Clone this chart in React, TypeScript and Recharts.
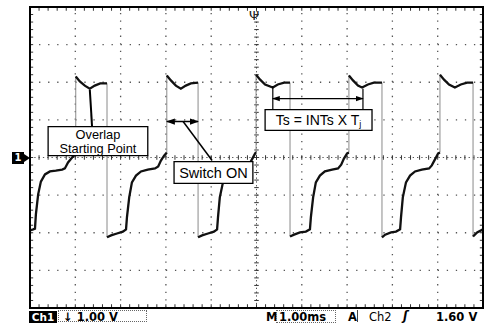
import React from 'react';
import { LineChart, Line, XAxis, YAxis, ReferenceLine, ReferenceArea } from 'recharts';

// Ch1 trace: time in ms (1 ms/div), voltage in V (1 V/div). null marks a fast edge.
const TIME_MS = [
  0, 0.07, 0.11, 0.13, 0.18, 0.24, 0.33, 0.44, 0.57, 0.71, 0.77, 0.84, 0.93, 0.99, 1.01,
  1.01,
  1.01, 1.1, 1.21, 1.32, 1.43, 1.55, 1.63, 1.7,
  1.7,
  1.7, 1.79, 1.92, 2.05, 2.12, 2.14, 2.19, 2.25, 2.34, 2.45, 2.6, 2.76, 2.83, 2.89, 2.96, 3.02,
  3.02,
  3.02, 3.11, 3.22, 3.33, 3.44, 3.55, 3.71,
  3.71,
  3.71, 3.8, 3.93, 4.06, 4.13, 4.15, 4.19, 4.26, 4.35, 4.46, 4.61, 4.77, 4.83, 4.9, 4.97, 4.99,
  4.99,
  4.99, 5.08, 5.19, 5.36, 5.47, 5.61, 5.74,
  5.74,
  5.74, 5.83, 5.96, 6.09, 6.18, 6.2, 6.25, 6.31, 6.4, 6.51, 6.67, 6.8, 6.87, 6.93, 7.0, 7.04,
  7.04,
  7.04, 7.13, 7.24, 7.33, 7.46, 7.59, 7.77,
  7.77,
  7.77, 7.84, 7.97, 8.08, 8.17, 8.19, 8.23, 8.3, 8.39, 8.5, 8.65, 8.81, 8.87, 8.94, 9.01, 9.05,
  9.05,
  9.05, 9.14, 9.25, 9.38, 9.51, 9.65, 9.78,
  9.78,
  9.78, 9.87, 10.0,
];
const CH1_V = [
  -1.94, -1.91, -1.89, -1.51, -0.98, -0.64, -0.45, -0.37, -0.35, -0.32, -0.29, -0.13, 0, 0.08, 0.12,
  null,
  2.15, 2.02, 1.91, 1.83, 1.91, 1.97, 1.97, 1.97,
  null,
  -2.12, -2.07, -2.02, -1.97, -1.91, -1.59, -1.06, -0.66, -0.48, -0.37, -0.32, -0.29, -0.24, -0.08, 0.05, 0.13,
  null,
  2.18, 2.05, 1.91, 1.83, 1.91, 1.97, 1.99,
  null,
  -2.12, -2.07, -2.02, -1.97, -1.91, -1.59, -1.06, -0.66, -0.48, -0.37, -0.32, -0.29, -0.21, -0.05, 0.11, 0.14,
  null,
  2.2, 2.07, 1.94, 1.86, 1.94, 1.99, 1.99,
  null,
  -2.1, -2.05, -1.99, -1.97, -1.91, -1.59, -1.06, -0.66, -0.48, -0.37, -0.32, -0.29, -0.19, -0.03, 0.11, 0.13,
  null,
  2.18, 2.05, 1.91, 1.86, 1.94, 1.99, 1.99,
  null,
  -2.12, -2.05, -1.99, -1.97, -1.91, -1.59, -1.06, -0.66, -0.48, -0.37, -0.32, -0.29, -0.21, -0.05, 0.11, 0.13,
  null,
  2.2, 2.07, 1.94, 1.86, 1.94, 1.99, 1.99,
  null,
  -2.1, -1.99, -1.91,
];

const X_GRID = [1, 2, 3, 4, 6, 7, 8, 9];
const Y_GRID = [-3, -2, -1, 1, 2, 3];
const X_MINOR = Array.from({ length: 49 }, (_, i) => +(0.2 * (i + 1)).toFixed(2));
const Y_MINOR = Array.from({ length: 39 }, (_, i) => +(-3.8 + 0.2 * i).toFixed(2));

const ANNOT_OVERLAP = ['Overlap', 'Starting Point'];
const ANNOT_SWITCH = ['Switch ON'];
const STATUS_LEFT = '\u2193 1.00 V';
const STATUS_TIME = '1.00ms';
const STATUS_TRIG = ['A', 'Ch2', '1.60 V'];

const data = TIME_MS.map((t, i) => ({ t, v: CH1_V[i] }));

const FONT = '"Liberation Sans", Arial, sans-serif';
const TOP = 1500;

const boxLabel = (lines: React.ReactNode[], fontSize: number, lineH: number) => (props: any) => {
  const vb = props.viewBox || {};
  const x = vb.x, y = vb.y, w = vb.width, h = vb.height;
  const cx = x + w / 2;
  const n = lines.length;
  const y0 = y + h / 2 - ((n - 1) * lineH) / 2;
  return (
    <text x={cx} y={y0} textAnchor="middle" dominantBaseline="central" fontFamily={FONT} fontSize={fontSize} fill="#000">
      {lines.map((l, i) => (
        <tspan key={i} x={cx} y={y0 + i * lineH}>{l}</tspan>
      ))}
    </text>
  );
};

const tsLabel = (props: any) => {
  const vb = props.viewBox || {};
  const cx = vb.x + vb.width / 2;
  const cy = vb.y + vb.height / 2;
  return (
    <text x={cx} y={cy} textAnchor="middle" dominantBaseline="central" fontFamily={FONT} fontSize={14} fill="#000">
      <tspan>Ts = INTs X T</tspan>
      <tspan dy={4} fontSize={9}>j</tspan>
    </text>
  );
};

const gridColor = '#555';

export default function App() {
  return (
    <div style={{ position: 'absolute', left: 0, top: 0, width: 486, height: 326, background: '#fff' }}>
      <LineChart width={486} height={326} data={data} margin={{ top: 7, right: 3, bottom: 18, left: 30 }}>
        <defs>
          <marker id="ah" viewBox="0 0 10 10" refX="9" refY="5" markerWidth="6" markerHeight="6" orient="auto-start-reverse">
            <path d="M0,1.5 L10,5 L0,8.5 z" fill="#000" />
          </marker>
        </defs>
        <XAxis type="number" dataKey="t" domain={[0, 10]} hide allowDataOverflow />
        <YAxis type="number" domain={[-4, 4]} hide allowDataOverflow />

        {X_GRID.map((x) => (
          <ReferenceLine key={'gx' + x} x={x} stroke={gridColor} strokeWidth={1.3} strokeDasharray="1.3 6.23" />
        ))}
        {Y_GRID.map((y) => (
          <ReferenceLine key={'gy' + y} y={y} stroke={gridColor} strokeWidth={1.3} strokeDasharray="1.3 7.76" />
        ))}
        <ReferenceLine x={5} stroke={gridColor} strokeWidth={1} strokeDasharray="1.3 2.5" />
        <ReferenceLine y={0} stroke={gridColor} strokeWidth={1} strokeDasharray="1.3 3" />
        {X_MINOR.map((x) => (
          <ReferenceLine key={'cx' + x} segment={[{ x, y: -0.06 }, { x, y: 0.06 }]} stroke="#333" strokeWidth={1} />
        ))}
        {Y_MINOR.map((y) => (
          <ReferenceLine key={'cy' + y} segment={[{ x: 4.95, y }, { x: 5.05, y }]} stroke="#333" strokeWidth={1} />
        ))}
        {X_MINOR.map((x) => (
          <ReferenceLine key={'bx' + x} segment={[{ x, y: -4 }, { x, y: -3.9 }]} stroke="#333" strokeWidth={1} />
        ))}
        {X_MINOR.map((x) => (
          <ReferenceLine key={'tx' + x} segment={[{ x, y: 4 }, { x, y: 3.9 }]} stroke="#333" strokeWidth={1} />
        ))}
        {Y_MINOR.map((y) => (
          <ReferenceLine key={'ly' + y} segment={[{ x: 0, y }, { x: 0.07, y }]} stroke="#333" strokeWidth={1} />
        ))}
        {Y_MINOR.map((y) => (
          <ReferenceLine key={'ry' + y} segment={[{ x: 10, y }, { x: 9.93, y }]} stroke="#333" strokeWidth={1} />
        ))}

        <Line type="linear" dataKey="v" connectNulls stroke="#8a8a8a" strokeWidth={1} dot={false} isAnimationActive={false} />
        <Line type="linear" dataKey="v" connectNulls={false} stroke="#111" strokeWidth={2.3} dot={false} isAnimationActive={false} />

        {/* Overlap annotation */}
        <ReferenceLine zIndex={TOP} segment={[{ x: 1.32, y: 1.8 }, { x: 1.37, y: 0.82 }]} stroke="#000" strokeWidth={2} />
        <ReferenceArea zIndex={TOP} x1={0.4} x2={2.6} y1={0.05} y2={0.82} fill="#fff" fillOpacity={1} stroke="#000" strokeWidth={1.3}
          label={boxLabel(ANNOT_OVERLAP, 12.8, 14.5)} />

        {/* Switch ON annotation */}
        <ReferenceLine zIndex={TOP} segment={[{ x: 3.02, y: 0.955 }, { x: 3.71, y: 0.955 }]} stroke="#000" strokeWidth={1.5}
          markerStart="url(#ah)" markerEnd="url(#ah)" />
        <ReferenceLine zIndex={TOP} segment={[{ x: 3.38, y: 0.955 }, { x: 4.02, y: -0.08 }]} stroke="#000" strokeWidth={1.5} />
        <ReferenceArea zIndex={TOP} x1={3.18} x2={4.92} y1={-0.69} y2={-0.11} fill="#fff" fillOpacity={1} stroke="#000" strokeWidth={1.3}
          label={boxLabel(ANNOT_SWITCH, 14.5, 14)} />

        {/* Ts annotation */}
        <ReferenceLine zIndex={TOP} segment={[{ x: 5.36, y: 1.9 }, { x: 5.36, y: 1.27 }]} stroke="#000" strokeWidth={1.2} />
        <ReferenceLine zIndex={TOP} segment={[{ x: 7.35, y: 1.83 }, { x: 7.35, y: 1.27 }]} stroke="#000" strokeWidth={1.2} />
        <ReferenceLine zIndex={TOP} segment={[{ x: 5.36, y: 1.565 }, { x: 7.35, y: 1.565 }]} stroke="#000" strokeWidth={1.3}
          markerStart="url(#ah)" markerEnd="url(#ah)" />
        <ReferenceArea zIndex={TOP} x1={5.19} x2={7.55} y1={0.72} y2={1.27} fill="#fff" fillOpacity={1} stroke="#000" strokeWidth={1.3}
          label={tsLabel} />

        {/* Border */}
        <ReferenceArea zIndex={TOP} x1={0} x2={10} y1={-4} y2={4} fill="none" fillOpacity={0} stroke="#000" strokeWidth={2} ifOverflow="visible" />
      </LineChart>

      {/* ground marker */}
      <div style={{ position: 'absolute', left: 12, top: 152, width: 12, height: 12, background: '#000', color: '#fff',
        fontFamily: '"DejaVu Sans", sans-serif', fontWeight: 700, fontSize: 10, lineHeight: '12px', textAlign: 'center' }}>1</div>
      <div style={{ position: 'absolute', left: 24, top: 154, width: 0, height: 0, borderTop: '4px solid transparent',
        borderBottom: '4px solid transparent', borderLeft: '6px solid #000' }} />
      {/* trigger position marker */}
      <div style={{ position: 'absolute', left: 249, top: 9, fontFamily: '"DejaVu Sans", sans-serif', fontSize: 13, lineHeight: '14px', color: '#222' }}>Ψ</div>

      {/* status bar */}
      <div style={{ position: 'absolute', left: 29, top: 311, width: 28, height: 12, background: '#000', color: '#fff',
        fontFamily: '"DejaVu Sans", sans-serif', fontWeight: 700, fontSize: 10.5, lineHeight: '12px', textAlign: 'center' }}>Ch1</div>
      <div style={{ position: 'absolute', left: 58, top: 310, width: 89, height: 12, border: '1px dotted #666',
        fontFamily: '"DejaVu Sans", sans-serif', fontWeight: 700, fontSize: 11.5, lineHeight: '12px', color: '#000', paddingLeft: 4, boxSizing: 'border-box' }}>{STATUS_LEFT}</div>
      <div style={{ position: 'absolute', left: 266, top: 311, fontFamily: '"DejaVu Sans", sans-serif', fontWeight: 700, fontSize: 11.5, lineHeight: '12px', color: '#000' }}>M</div>
      <div style={{ position: 'absolute', left: 276, top: 310, width: 60, height: 13, border: '1px dotted #666', boxSizing: 'border-box',
        fontFamily: '"DejaVu Sans", sans-serif', fontWeight: 700, fontSize: 11.5, lineHeight: '12px', color: '#000', paddingLeft: 2 }}>{STATUS_TIME}</div>
      <div style={{ position: 'absolute', left: 348, top: 311, fontFamily: '"DejaVu Sans", sans-serif', fontWeight: 700, fontSize: 11.5, lineHeight: '12px', color: '#000' }}>{STATUS_TRIG[0]}</div>
      <div style={{ position: 'absolute', left: 357, top: 310, width: 1, height: 12, background: '#444' }} />
      <div style={{ position: 'absolute', left: 369, top: 311, fontFamily: '"DejaVu Sans", sans-serif', fontWeight: 400, fontSize: 11.5, lineHeight: '12px', color: '#000' }}>{STATUS_TRIG[1]}</div>
      <div style={{ position: 'absolute', left: 403, top: 310, fontFamily: '"DejaVu Sans", sans-serif', fontStyle: 'italic', fontWeight: 700, fontSize: 12, lineHeight: '12px', color: '#000' }}>ʃ</div>
      <div style={{ position: 'absolute', left: 436, top: 311, fontFamily: '"DejaVu Sans", sans-serif', fontWeight: 700, fontSize: 11.5, lineHeight: '12px', color: '#000' }}>{STATUS_TRIG[2]}</div>
    </div>
  );
}
